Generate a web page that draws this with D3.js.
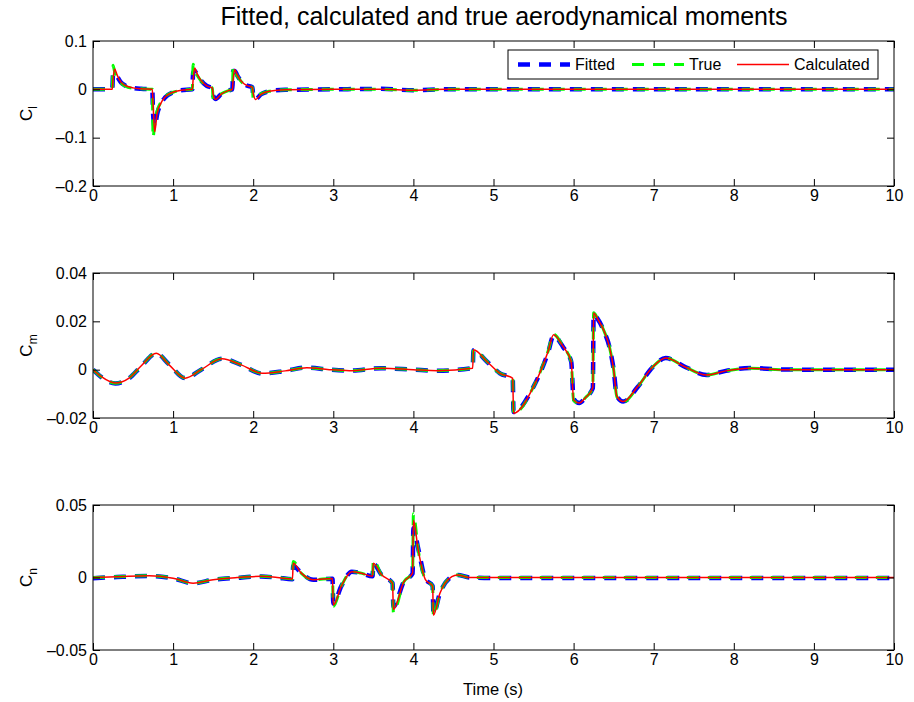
<html>
<head>
<meta charset="utf-8">
<script src="https://d3js.org/d3.v7.min.js"></script>
<style>
body {margin: 0; background: #fff;}
text {font-family: "Liberation Sans", Arial, Helvetica, sans-serif; fill: #000;}
.tick line {stroke: #000;}
.domain {stroke: none;}
</style>
</head>
<body>
<svg id="chart" width="914" height="702"></svg>
<script>
// time ticks, shared by all three subplots
var timeTicks = [0, 1, 2, 3, 4, 5, 6, 7, 8, 9, 10];

// C_l (roll moment)
var t1 = [0, 0.24, 0.25, 0.27, 0.30, 0.35, 0.40, 0.50, 0.60, 0.74, 0.75, 0.77, 0.80, 0.85, 0.90, 1.00, 1.10,
          1.24, 1.25, 1.27, 1.30, 1.35, 1.42, 1.49, 1.50, 1.53, 1.60, 1.70, 1.74, 1.75, 1.77, 1.80, 1.85, 1.92,
          1.99, 2.00, 2.03, 2.10, 2.20, 2.40, 3.00, 3.60, 4.00, 4.40, 5.00, 6.00, 8.00, 10.00];
var clFitted = [0, 0, 0.030, 0.034, 0.027, 0.014, 0.008, 0.003, 0.001, 0, -0.050, -0.078, -0.052, -0.029, -0.017, -0.006, -0.002,
          0, 0.034, 0.038, 0.030, 0.018, 0.007, 0.003, -0.012, -0.020, -0.010, -0.002, 0, 0.038, 0.038, 0.029, 0.017, 0.008,
          0.004, -0.012, -0.020, -0.010, -0.004, -0.001, 0, 0.001, -0.002, 0, 0, 0, 0, 0];
var clTrue = [0, 0, 0.050, 0.036, 0.026, 0.013, 0.007, 0.002, 0.001, 0, -0.100, -0.070, -0.045, -0.026, -0.015, -0.006, -0.002,
          0, 0.052, 0.038, 0.029, 0.017, 0.007, 0.003, -0.020, -0.017, -0.009, -0.002, 0, 0.046, 0.036, 0.028, 0.016, 0.008,
          0.004, -0.020, -0.017, -0.009, -0.004, -0.001, 0, 0, -0.002, 0, 0, 0, 0, 0];
var clCalc = [0, 0, 0.020, 0.042, 0.030, 0.015, 0.008, 0.003, 0.001, 0, -0.030, -0.088, -0.050, -0.028, -0.016, -0.006, -0.002,
          0, 0.020, 0.044, 0.032, 0.018, 0.007, 0.003, -0.010, -0.021, -0.010, -0.002, 0, 0.020, 0.041, 0.030, 0.017, 0.008,
          0.004, -0.008, -0.021, -0.010, -0.004, -0.001, 0, 0, -0.002, 0, 0, 0, 0, 0];
var clTicks = [-0.2, -0.1, 0, 0.1];

// C_m (pitch moment)
var t2 = [0, 0.10, 0.28, 0.45, 0.60, 0.79, 0.95, 1.15, 1.35, 1.61, 1.85, 2.11, 2.40, 2.67, 2.95, 3.20, 3.60, 4.00, 4.30,
          4.74, 4.75, 4.92, 5.08, 5.24, 5.25, 5.50, 5.68, 5.75, 5.87, 5.97, 6.00, 6.07, 6.15, 6.24, 6.25, 6.30, 6.38,
          6.45, 6.50, 6.54, 6.62, 6.80, 6.99, 7.15, 7.40, 7.66, 7.90, 8.20, 8.60, 9.00, 10.00];
var cmFitted = [0, -0.0030, -0.0057, -0.0036, 0.0013, 0.0067, 0.0022, -0.0035, 0.0000, 0.0045, 0.0020, -0.0016, -0.0005, 0.0009, 0.0000, -0.0004, 0.0006, 0.0000, -0.0004,
          0.0006, 0.0080, 0.0033, -0.0015, -0.0036, -0.0175, -0.0070, 0.0069, 0.0140, 0.0093, 0.0033, -0.0120, -0.0138, -0.0115, -0.0077, 0.0228, 0.0210, 0.0158,
          0.0090, 0.0000, -0.0110, -0.0132, -0.0072, 0.0012, 0.0048, 0.0010, -0.0022, -0.0005, 0.0007, 0.0001, 0.0000, 0.0000];
var cmTrue = [0, -0.0029, -0.0056, -0.0035, 0.0014, 0.0068, 0.0021, -0.0035, 0.0000, 0.0045, 0.0020, -0.0015, -0.0005, 0.0008, 0.0000, -0.0004, 0.0006, 0.0000, -0.0004,
          0.0006, 0.0083, 0.0033, -0.0015, -0.0036, -0.0182, -0.0070, 0.0075, 0.0146, 0.0095, 0.0033, -0.0127, -0.0140, -0.0115, -0.0076, 0.0236, 0.0212, 0.0160,
          0.0090, 0.0000, -0.0112, -0.0134, -0.0071, 0.0012, 0.0048, 0.0010, -0.0022, -0.0005, 0.0006, 0.0000, 0.0000, 0.0000];
var cmCalc = [0, -0.0028, -0.0055, -0.0035, 0.0015, 0.0068, 0.0020, -0.0035, 0.0000, 0.0045, 0.0020, -0.0015, -0.0005, 0.0008, 0.0000, -0.0004, 0.0006, 0.0000, -0.0004,
          0.0006, 0.0082, 0.0033, -0.0015, -0.0036, -0.0180, -0.0070, 0.0074, 0.0145, 0.0095, 0.0033, -0.0125, -0.0138, -0.0115, -0.0075, 0.0235, 0.0210, 0.0160,
          0.0090, 0.0000, -0.0110, -0.0132, -0.0070, 0.0012, 0.0048, 0.0010, -0.0022, -0.0005, 0.0006, 0.0000, 0.0000, 0.0000];
var cmTicks = [-0.02, 0, 0.02, 0.04];

// C_n (yaw moment)
var t3 = [0, 0.30, 0.70, 1.00, 1.25, 1.50, 1.80, 2.10, 2.30, 2.49, 2.50, 2.60, 2.75, 2.99, 3.00, 3.10, 3.23, 3.35,
          3.49, 3.50, 3.60, 3.74, 3.75, 3.88, 3.99, 4.00, 4.06, 4.15, 4.24, 4.25, 4.33, 4.48, 4.55, 4.70, 5.00, 7.00, 10.00];
var cnFitted = [-0.0005, 0.0003, 0.0010, -0.0006, -0.0040, -0.0016, -0.0002, 0.0007, -0.0001, -0.0012, 0.0080, 0.0030, -0.0016, -0.0008, -0.0180, -0.0060, 0.0040, 0.0030,
          0.0008, 0.0095, 0.0020, -0.0040, -0.0200, -0.0030, 0.0028, 0.0340, 0.0200, -0.0010, -0.0058, -0.0250, -0.0110, 0.0006, 0.0018, 0.0000, -0.0004, -0.0004, -0.0004];
var cnTrue = [0, 0.0005, 0.0012, -0.0005, -0.0040, -0.0015, 0, 0.0008, 0, -0.0010, 0.0110, 0.0030, -0.0015, -0.0007, -0.0200, -0.0060, 0.0040, 0.0030,
          0.0008, 0.0120, 0.0020, -0.0040, -0.0240, -0.0030, 0.0030, 0.0440, 0.0190, -0.0015, -0.0060, -0.0265, -0.0110, 0.0006, 0.0018, 0, 0, 0, 0];
var cnCalc = [0, 0.0005, 0.0012, -0.0005, -0.0040, -0.0015, 0, 0.0008, 0, -0.0010, 0.0098, 0.0030, -0.0015, -0.0007, -0.0190, -0.0060, 0.0040, 0.0030,
          0.0008, 0.0098, 0.0020, -0.0040, -0.0220, -0.0030, 0.0030, 0.0395, 0.0190, -0.0015, -0.0060, -0.0260, -0.0110, 0.0006, 0.0018, 0, 0, 0, 0];
var cnTicks = [-0.05, 0, 0.05];

var seriesNames = ["Fitted", "True", "Calculated"];

var svg = d3.select("#chart");
var left = 93, right = 894, ph = 145;
var fmt = function(d) { return d === 0 ? "0" : String(d).replace("-", "\u2013"); };

var panels = [
    {top: 41,  t: t1, ys: [clFitted, clTrue, clCalc], dom: [-0.2, 0.1],   ticks: clTicks, sub: "l"},
    {top: 273, t: t2, ys: [cmFitted, cmTrue, cmCalc], dom: [-0.02, 0.04], ticks: cmTicks, sub: "m"},
    {top: 505, t: t3, ys: [cnFitted, cnTrue, cnCalc], dom: [-0.05, 0.05], ticks: cnTicks, sub: "n"}
];

var styles = [
    {color: "#0000ff", width: 4.5, dash: "12,9"},
    {color: "#00ff00", width: 3, dash: "12,9"},
    {color: "#ff0000", width: 1.5, dash: null}
];

var x = d3.scaleLinear().domain([0, 10]).range([left, right]);

panels.forEach(function(p, pi) {
    var y = d3.scaleLinear().domain(p.dom).range([p.top + ph, p.top]);

    svg.append("clipPath").attr("id", "clip" + pi)
        .append("rect").attr("x", left).attr("y", p.top).attr("width", right - left).attr("height", ph);

    var line = d3.line()
        .x(function(d) { return x(d[0]); })
        .y(function(d) { return y(d[1]); })
        .curve(d3.curveMonotoneX);

    var g = svg.append("g").attr("clip-path", "url(#clip" + pi + ")");
    p.ys.forEach(function(vals, si) {
        var pts = p.t.map(function(tt, i) { return [tt, vals[i]]; });
        g.append("path")
            .attr("d", line(pts))
            .attr("fill", "none")
            .attr("stroke", styles[si].color)
            .attr("stroke-width", styles[si].width)
            .attr("stroke-dasharray", styles[si].dash)
            .attr("stroke-linejoin", "round");
    });

    // axes with inward ticks, MATLAB style
    svg.append("g").attr("transform", "translate(0," + (p.top + ph) + ")")
        .call(d3.axisBottom(x).tickValues(timeTicks).tickFormat(fmt).tickSizeInner(-7).tickSizeOuter(0).tickPadding(4))
        .selectAll("text").style("font-size", "16px");
    svg.append("g").attr("transform", "translate(0," + p.top + ")")
        .call(d3.axisTop(x).tickValues(timeTicks).tickFormat("").tickSizeInner(-7).tickSizeOuter(0));
    svg.append("g").attr("transform", "translate(" + left + ",0)")
        .call(d3.axisLeft(y).tickValues(p.ticks).tickFormat(fmt).tickSizeInner(-7).tickSizeOuter(0).tickPadding(6))
        .selectAll("text").style("font-size", "16px");
    svg.append("g").attr("transform", "translate(" + right + ",0)")
        .call(d3.axisRight(y).tickValues(p.ticks).tickFormat("").tickSizeInner(-7).tickSizeOuter(0));

    svg.append("rect")
        .attr("x", left).attr("y", p.top).attr("width", right - left).attr("height", ph)
        .attr("fill", "none").attr("stroke", "#000").attr("stroke-width", 1);

    // y label C_sub
    var lbl = svg.append("text")
        .attr("transform", "translate(32," + (p.top + ph / 2) + ") rotate(-90)")
        .attr("text-anchor", "middle")
        .style("font-size", "17px");
    lbl.append("tspan").text("C");
    lbl.append("tspan").attr("dy", 5).style("font-size", "12px").text(p.sub);
});

// title and x label
svg.append("text").attr("x", 504).attr("y", 25).attr("text-anchor", "middle")
    .style("font-size", "25px").text("Fitted, calculated and true aerodynamical moments");
svg.append("text").attr("x", 493).attr("y", 695).attr("text-anchor", "middle")
    .style("font-size", "16.5px").text("Time (s)");

// legend
var lg = svg.append("g");
lg.append("rect").attr("x", 508).attr("y", 50).attr("width", 370).attr("height", 29)
    .attr("fill", "#fff").attr("stroke", "#000").attr("stroke-width", 1);
var lx = [518, 632, 737];
seriesNames.forEach(function(name, i) {
    lg.append("line").attr("x1", lx[i]).attr("x2", lx[i] + 52).attr("y1", 64.5).attr("y2", 64.5)
        .attr("stroke", styles[i].color).attr("stroke-width", styles[i].width)
        .attr("stroke-dasharray", styles[i].dash);
    lg.append("text").attr("x", lx[i] + 57).attr("y", 64.5).attr("dy", "0.35em")
        .style("font-size", "16px").text(name);
});
</script>
</body>
</html>
